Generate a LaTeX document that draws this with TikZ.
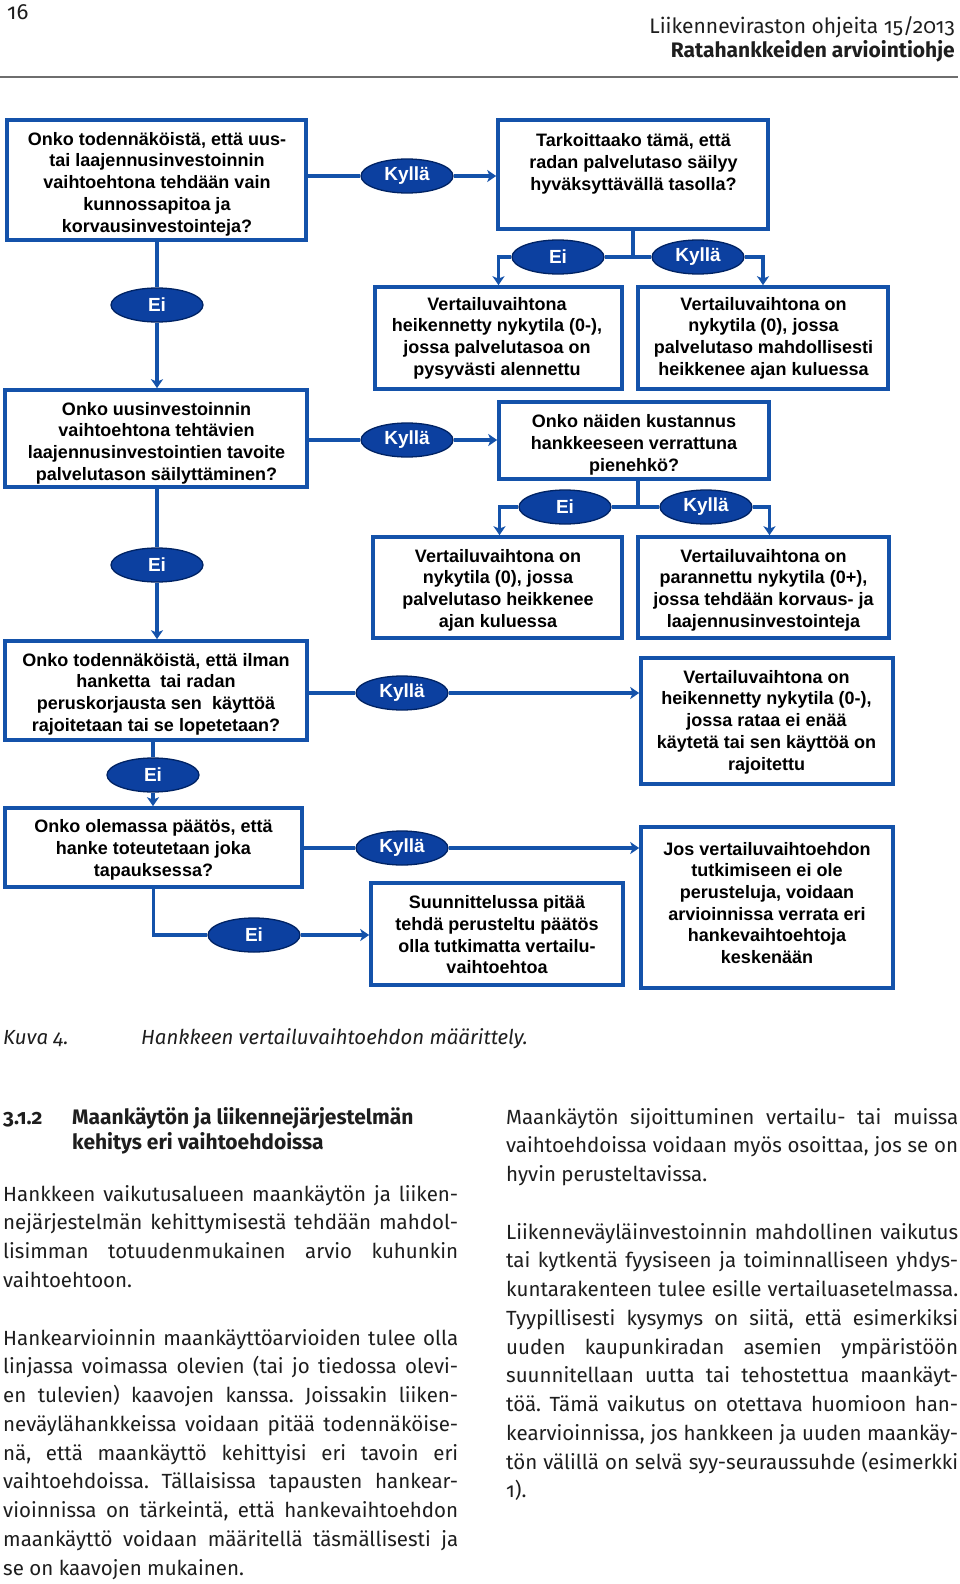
\documentclass[tikz,border=0pt]{standalone}
\usepackage{fontspec}
\setmainfont{Fira Sans}[Numbers=OldStyle]
\newfontfamily\arialf{Liberation Sans}
\usetikzlibrary{arrows.meta,shapes.geometric}
\definecolor{boxblue}{RGB}{20,82,170}
\definecolor{ellfill}{RGB}{12,64,160}
\definecolor{elldraw}{RGB}{0,35,100}
\definecolor{bodyc}{RGB}{30,30,30}
\definecolor{rulec}{RGB}{110,110,110}
\newcommand\mybodyfont{\fontsize{20.5}{28.75}\selectfont\frenchspacing\tolerance=9999\hbadness=10000\hyphenpenalty=10000}
\tikzset{
 qbox/.style={draw=boxblue, line width=3.6pt, fill=white, inner sep=0pt, rectangle},
 qtext/.style={align=center, inner sep=0pt, font=\arialf\bfseries\fontsize{18}{21.7}\selectfont, text=black},
 yn/.style={ellipse, draw=elldraw, line width=1.3pt, fill=ellfill, text=white, inner sep=0pt, minimum width=92pt, minimum height=34pt, font=\arialf\bfseries\fontsize{19}{22}\selectfont},
 conn/.style={draw=boxblue, line width=3.6pt},
 arr/.style={conn, -{Stealth[length=9pt,width=12pt,inset=2.5pt]}},
 body/.style={inner sep=0pt, text width=#1, align=justify, font=\mybodyfont, text=bodyc, anchor=base west},
 plain/.style={inner sep=0pt, text=bodyc},
}
\begin{document}
\begin{tikzpicture}[x=1pt,y=-1pt]
\fill[white] (0,0) rectangle (960,1584);
\useasboundingbox (0,0) rectangle (960,1584);

% header
\node[plain, anchor=base west, font=\fontsize{22}{24}\selectfont] (pg) at (7,20) {16};
\node[plain, anchor=base east, font=\fontsize{21}{24}\selectfont] (h1) at (955,34) {Liikenneviraston ohjeita 15/2013};
\node[plain, anchor=base east, font=\bfseries\fontsize{21}{24}\selectfont] (h2) at (955,58) {Ratahankkeiden arviointiohje};
\coordinate (rl) at (0,77);
\coordinate (rr) at (958,77);
\draw[rulec, line width=2pt] (rl) -- (rr);

% boxes
\node[qbox, minimum width=299pt, minimum height=120pt] (b1) at (156.5,180) {};
\node[qbox, minimum width=270pt, minimum height=109pt] (b2) at (633,174.5) {};
\node[qbox, minimum width=247pt, minimum height=102pt] (b3) at (498.5,338) {};
\node[qbox, minimum width=250pt, minimum height=102pt] (b4) at (763,338) {};
\node[qbox, minimum width=302pt, minimum height=97pt] (b5) at (156,438.5) {};
\node[qbox, minimum width=270pt, minimum height=77pt] (b6) at (634,440.5) {};
\node[qbox, minimum width=249pt, minimum height=101pt] (b7) at (497.5,587.5) {};
\node[qbox, minimum width=251pt, minimum height=101pt] (b8) at (763.5,587.5) {};
\node[qbox, minimum width=302pt, minimum height=99pt] (b9) at (156,690.5) {};
\node[qbox, minimum width=252pt, minimum height=126pt] (b10) at (767,721) {};
\node[qbox, minimum width=297pt, minimum height=79pt] (b11) at (153.5,847.5) {};
\node[qbox, minimum width=252pt, minimum height=161pt] (b12) at (767,907.5) {};
\node[qbox, minimum width=252pt, minimum height=102pt] (b13) at (497,934) {};

% box texts
\node[qtext] (t1) at (157,184) {Onko todennäköistä, että uus-\\tai laajennusinvestoinnin\\vaihtoehtona tehdään vain\\kunnossapitoa ja\\korvausinvestointeja?};
\node[qtext] (t2) at (633.5,164) {Tarkoittaako tämä, että\\radan palvelutaso säilyy\\hyväksyttävällä tasolla?};
\node[qtext] (t3) at (497,338) {Vertailuvaihtona\\heikennetty nykytila (0-),\\jossa palvelutasoa on\\pysyvästi alennettu};
\node[qtext] (t4) at (763.5,338) {Vertailuvaihtona on\\nykytila (0), jossa\\palvelutaso mahdollisesti\\heikkenee ajan kuluessa};
\node[qtext] (t5) at (156.5,443) {Onko uusinvestoinnin\\vaihtoehtona tehtävien\\laajennusinvestointien tavoite\\palvelutason säilyttäminen?};
\node[qtext] (t6) at (634,445) {Onko näiden kustannus\\hankkeeseen verrattuna\\pienehkö?};
\node[qtext] (t7) at (498,590) {Vertailuvaihtona on\\nykytila (0), jossa\\palvelutaso heikkenee\\ajan kuluessa};
\node[qtext] (t8) at (763.5,590) {Vertailuvaihtona on\\parannettu nykytila (0+),\\jossa tehdään korvaus- ja\\laajennusinvestointeja};
\node[qtext] (t9) at (156,694) {Onko todennäköistä, että ilman\\hanketta\ \ tai radan\\peruskorjausta sen\ \ käyttöä\\rajoitetaan tai se lopetetaan?};
\node[qtext] (t10) at (766.5,722) {Vertailuvaihtona on\\heikennetty nykytila (0-),\\jossa rataa ei enää\\käytetä tai sen käyttöä on\\rajoitettu};
\node[qtext] (t11) at (153.5,850) {Onko olemassa päätös, että\\hanke toteutetaan joka\\tapauksessa?};
\node[qtext] (t12) at (767,903) {Jos vertailuvaihtoehdon\\tutkimiseen ei ole\\perusteluja, voidaan\\arvioinnissa verrata eri\\hankevaihtoehtoja\\keskenään};
\node[qtext] (t13) at (497,935) {Suunnittelussa pitää\\tehdä perusteltu päätös\\olla tutkimatta vertailu-\\vaihtoehtoa};

% decision labels
\node[yn] (e1) at (407,176) {Kyllä};
\node[yn] (e2) at (157,305) {Ei};
\node[yn] (e3) at (558,257) {Ei};
\node[yn] (e4) at (698,257) {Kyllä};
\node[yn] (e5) at (407,440) {Kyllä};
\node[yn] (e6) at (157,565) {Ei};
\node[yn] (e7) at (565,507) {Ei};
\node[yn] (e8) at (706,507) {Kyllä};
\node[yn] (e9) at (402,693) {Kyllä};
\node[yn] (e10) at (153,775) {Ei};
\node[yn] (e11) at (402,848) {Kyllä};
\node[yn] (e12) at (254,935) {Ei};

% connectors
\draw[conn] (e1.west -| b1.east) -- (e1.west);
\draw[arr] (e1.east) -- (e1.east -| b2.west);
\draw[conn] (e2.north |- b1.south) -- (e2.north);
\draw[arr] (e2.south) -- (e2.south |- b5.north);
\draw[conn] (b2.south) |- (e3.east);
\draw[conn] (b2.south) |- (e4.west);
\draw[arr] (e3.west) -| (b3.north);
\draw[arr] (e4.east) -| (b4.north);
\draw[conn] (e5.west -| b5.east) -- (e5.west);
\draw[arr] (e5.east) -- (e5.east -| b6.west);
\draw[conn] (e6.north |- b5.south) -- (e6.north);
\draw[arr] (e6.south) -- (e6.south |- b9.north);
\draw[conn] ([xshift=4pt]b6.south) |- (e7.east);
\draw[conn] ([xshift=4pt]b6.south) |- (e8.west);
\draw[arr] (e7.west) -| ([xshift=2pt]b7.north);
\draw[arr] (e8.east) -| ([xshift=6pt]b8.north);
\draw[conn] (e9.west -| b9.east) -- (e9.west);
\draw[arr] (e9.east) -- (e9.east -| b10.west);
\draw[conn] (e10.north |- b9.south) -- (e10.north);
\draw[arr] (e10.south) -- (e10.south |- b11.north);
\draw[conn] (e11.west -| b11.east) -- (e11.west);
\draw[arr] (e11.east) -- (e11.east -| b12.west);
\draw[conn] (b11.south) |- (e12.west);
\draw[arr] (e12.east) -- (e12.east -| b13.west);

% caption
\node[plain, anchor=base west, font=\itshape\fontsize{20.4}{24}\selectfont] (c1) at (3,1044) {Kuva 4.};
\node[plain, anchor=base west, font=\itshape\fontsize{20.4}{24}\selectfont] (c2) at (141,1044) {Hankkeen vertailuvaihtoehdon määrittely.};

% section heading
\node[plain, anchor=base west, font=\bfseries\fontsize{21}{25.5}\selectfont] (s1) at (3,1124) {3.1.2};
\node[plain, anchor=base west, align=left, font=\bfseries\fontsize{21}{25.5}\selectfont] (s2) at (72,1149.5) {Maankäytön ja liikennejärjestelmän\\kehitys eri vaihtoehdoissa};

% body text
\node[body=455pt] (p1) at (3,1201) {Hankkeen vaikutusalueen maankäytön ja liiken-\linebreak nejärjestelmän kehittymisestä tehdään mahdol-\linebreak lisimman totuudenmukainen arvio kuhunkin\linebreak vaihtoehtoon.};
\node[body=455pt] (p2) at (3,1345) {Hankearvioinnin maankäyttöarvioiden tulee olla\linebreak linjassa voimassa olevien (tai jo tiedossa olevi-\linebreak en tulevien) kaavojen kanssa. Joissakin liiken-\linebreak neväylähankkeissa voidaan pitää todennäköise-\linebreak nä, että maankäyttö kehittyisi eri tavoin eri\linebreak vaihtoehdoissa. Tällaisissa tapausten hankear-\linebreak vioinnissa on tärkeintä, että hankevaihtoehdon\linebreak maankäyttö voidaan määritellä täsmällisesti ja\linebreak se on kaavojen mukainen.};
\node[body=452pt] (p3) at (506,1124) {Maankäytön sijoittuminen vertailu- tai muissa\linebreak vaihtoehdoissa voidaan myös osoittaa, jos se on\linebreak hyvin perusteltavissa.};
\node[body=452pt] (p4) at (506,1239) {Liikenneväyläinvestoinnin mahdollinen vaikutus\linebreak tai kytkentä fyysiseen ja toiminnalliseen yhdys-\linebreak kuntarakenteen tulee esille vertailuasetelmassa.\linebreak Tyypillisesti kysymys on siitä, että esimerkiksi\linebreak uuden kaupunkiradan asemien ympäristöön\linebreak suunnitellaan uutta tai tehostettua maankäyt-\linebreak töä. Tämä vaikutus on otettava huomioon han-\linebreak kearvioinnissa, jos hankkeen ja uuden maankäy-\linebreak tön välillä on selvä syy-seuraussuhde (esimerkki\linebreak 1).};
\end{tikzpicture}
\end{document}
